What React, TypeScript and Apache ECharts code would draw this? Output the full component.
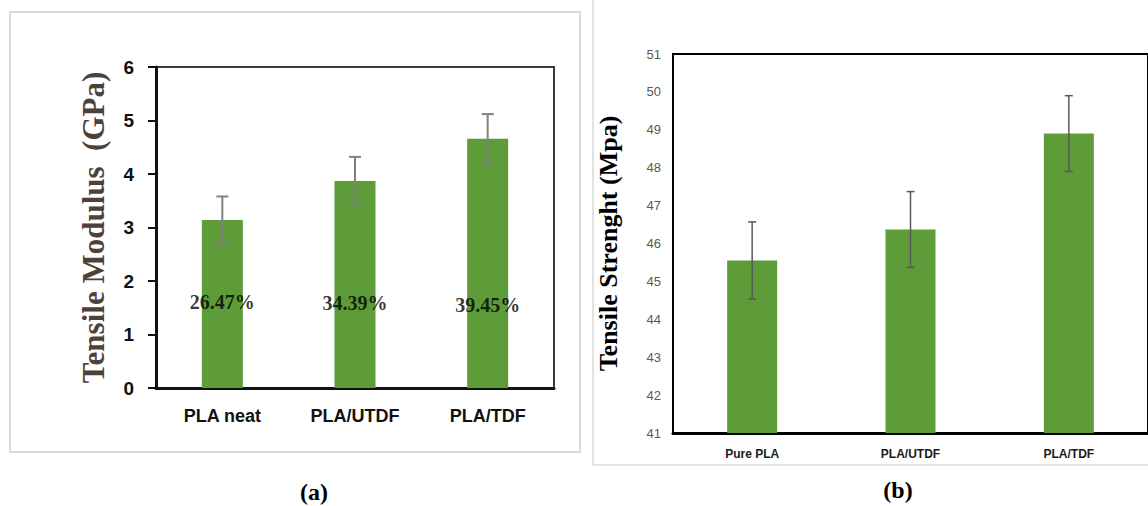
import React, { useEffect, useRef } from "react";
import * as echarts from "echarts";

// (a) Tensile modulus
const modCats = ["PLA neat", "PLA/UTDF", "PLA/TDF"];
const modValues = [3.14, 3.87, 4.66];
const modErr = [0.44, 0.45, 0.46];
const modPct = ["26.47%", "34.39%", "39.45%"];
const modPctPos = [1.6, 1.58, 1.55];
const modTicks = { min: 0, max: 6, interval: 1 };

// (b) Tensile strength
const strCats = ["Pure PLA", "PLA/UTDF", "PLA/TDF"];
const strValues = [45.55, 46.37, 48.9];
const strErr = [1.02, 1.0, 1.0];
const strTicks = { min: 41, max: 51, interval: 1 };

const panelLabels = ["(a)", "(b)"];

const GREEN = "#5e9c3a";

function errorSeries(values: number[], errs: number[], axisIdx: number, color: string, lw: number, cap: number) {
  return {
    type: "custom",
    xAxisIndex: axisIdx,
    yAxisIndex: axisIdx,
    z: 5,
    encode: { x: 0, y: [1, 2] },
    data: values.map((v, i) => [i, v - errs[i], v + errs[i]]),
    renderItem: (params: any, api: any) => {
      const x = api.value(0);
      const lo = api.coord([x, api.value(1)]);
      const hi = api.coord([x, api.value(2)]);
      const st = { stroke: color, lineWidth: lw };
      return {
        type: "group",
        children: [
          { type: "line", shape: { x1: hi[0], y1: hi[1], x2: lo[0], y2: lo[1] }, style: st },
          { type: "line", shape: { x1: hi[0] - cap, y1: hi[1], x2: hi[0] + cap, y2: hi[1] }, style: st },
          { type: "line", shape: { x1: lo[0] - cap, y1: lo[1], x2: lo[0] + cap, y2: lo[1] }, style: st },
        ],
      };
    },
  };
}

export default function App() {
  const ref = useRef<HTMLDivElement>(null);
  useEffect(() => {
    if (!ref.current) return;
    const chart = echarts.init(ref.current, null, { renderer: "svg" });
    chart.setOption({
      animation: false,
      backgroundColor: "#ffffff",
      grid: [
        { left: 156, top: 67, width: 398, height: 321, show: true, borderColor: "#3a3a3a", borderWidth: 2, backgroundColor: "transparent" },
        { left: 673, top: 54, width: 483, height: 379, show: true, borderColor: "#000000", borderWidth: 2, backgroundColor: "transparent" },
      ],
      xAxis: [
        {
          type: "category", gridIndex: 0, data: modCats,
          axisLine: { lineStyle: { color: "#111", width: 3 } },
          axisTick: { show: false },
          axisLabel: { color: "#111", fontFamily: "Liberation Sans", fontWeight: "bold", fontSize: 18, margin: 19 },
        },
        {
          type: "category", gridIndex: 1, data: strCats,
          axisLine: { lineStyle: { color: "#000", width: 3 } },
          axisTick: { show: false },
          axisLabel: { color: "#1a1a1a", fontFamily: "Liberation Sans", fontWeight: "bold", fontSize: 12, margin: 15 },
        },
      ],
      yAxis: [
        {
          type: "value", gridIndex: 0, ...modTicks,
          name: "Tensile Modulus  (GPa)", nameLocation: "middle", nameGap: 47,
          nameTextStyle: { fontFamily: "Liberation Serif", fontWeight: "bold", fontSize: 31, color: "#4d4239" },
          axisLine: { show: true, lineStyle: { color: "#111", width: 3 } },
          axisTick: { show: true, inside: false, length: 8, lineStyle: { color: "#111", width: 2 } },
          splitLine: { show: false },
          axisLabel: { color: "#111", fontFamily: "Liberation Sans", fontWeight: "bold", fontSize: 19, margin: 22 },
        },
        {
          type: "value", gridIndex: 1, ...strTicks,
          name: "Tensile Strenght (Mpa)", nameLocation: "middle", nameGap: 52,
          nameTextStyle: { fontFamily: "Liberation Serif", fontWeight: "bold", fontSize: 26, color: "#000" },
          axisLine: { show: true, lineStyle: { color: "#000", width: 2 } },
          axisTick: { show: false },
          splitLine: { show: false },
          axisLabel: { color: "#595959", fontFamily: "Liberation Sans", fontSize: 13, margin: 12 },
        },
      ],
      series: [
        { type: "bar", xAxisIndex: 0, yAxisIndex: 0, data: modValues, barWidth: 41, itemStyle: { color: GREEN } },
        errorSeries(modValues, modErr, 0, "#808080", 2, 6),
        {
          type: "scatter", xAxisIndex: 0, yAxisIndex: 0, symbolSize: 0, z: 6,
          data: modPctPos.map((p, i) => [i, p]),
          label: {
            show: true, position: "inside",
            formatter: (p: any) => modPct[p.dataIndex],
            fontFamily: "Liberation Serif", fontWeight: "bold", fontSize: 20, color: "#000",
          },
        },
        { type: "bar", xAxisIndex: 1, yAxisIndex: 1, data: strValues, barWidth: 50, itemStyle: { color: GREEN } },
        errorSeries(strValues, strErr, 1, "#595959", 1.5, 4),
      ],
      graphic: [
        { type: "rect", shape: { x: 10, y: 12, width: 570, height: 440 }, style: { fill: "none", stroke: "#d9d9d9", lineWidth: 2 }, z: 0 },
        { type: "line", shape: { x1: 593, y1: 0, x2: 593, y2: 465 }, style: { stroke: "#d9d9d9", lineWidth: 1.5 } },
        { type: "line", shape: { x1: 593, y1: 465, x2: 1148, y2: 465 }, style: { stroke: "#d9d9d9", lineWidth: 1.5 } },
        { type: "text", x: 314, y: 492, style: { text: panelLabels[0], font: "bold 24px 'Liberation Serif'", fill: "#000", textAlign: "center", textVerticalAlign: "middle" } },
        { type: "text", x: 898, y: 490, style: { text: panelLabels[1], font: "bold 24px 'Liberation Serif'", fill: "#000", textAlign: "center", textVerticalAlign: "middle" } },
      ],
    });
    return () => chart.dispose();
  }, []);
  return <div ref={ref} style={{ position: "fixed", left: 0, top: 0, width: 1148, height: 506 }} />;
}
